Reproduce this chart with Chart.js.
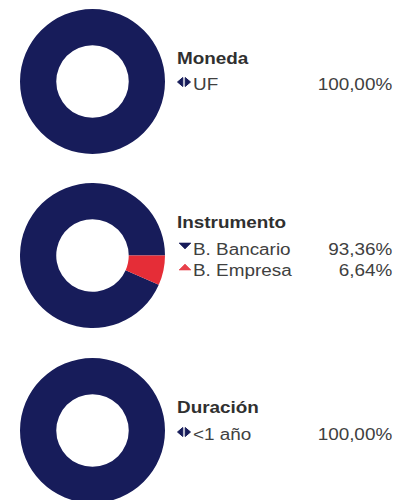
<!DOCTYPE html>
<html>
<head>
<meta charset="utf-8">
<script src="https://cdn.jsdelivr.net/npm/chart.js@4"></script>
<style>
  html, body { margin: 0; padding: 0; background: #fff; }
  body { width: 411px; height: 500px; position: relative; overflow: hidden; font-family: "Liberation Sans", Arial, sans-serif; }
  .pie { position: absolute; left: 20px; width: 145px; height: 145px; }
  .txt { position: absolute; font-size: 16px; line-height: 16px; white-space: nowrap; color: #404040; transform: scaleX(1.18); transform-origin: left center; }
  .txt.title { font-weight: bold; color: #303030; }
  .txt.right { transform-origin: right center; text-align: right; }
  svg.mk { position: absolute; }
</style>
</head>
<body>
<div class="pie" style="top:9px"><canvas id="c1"></canvas></div>
<div class="pie" style="top:183px"><canvas id="c2"></canvas></div>
<div class="pie" style="top:358px"><canvas id="c3"></canvas></div>
<script>
// datos de la cartera
const titles = ['Moneda', 'Instrumento', 'Duración'];

const monedaLabels = ['UF'];
const monedaValues = [100];

const instrumentoLabels = ['B. Bancario', 'B. Empresa'];
const instrumentoValues = [93.36, 6.64];

const duracionLabels = ['<1 año'];
const duracionValues = [100];

const navy = '#171c5a';
const red = '#e52d37';

function donut(id, labels, values, colors, rotation){
    const ctx = document.getElementById(id).getContext('2d');
    return new Chart(ctx, {
        type: 'doughnut',
        data: {
            labels: labels,
            datasets: [{
                data: values,
                backgroundColor: colors,
                borderWidth: 0,
                hoverOffset: 0
            }]
        },
        options: {
            responsive: true,
            maintainAspectRatio: false,
            animation: false,
            cutout: '50%',
            rotation: rotation,
            layout: { padding: 0 },
            plugins: { legend: { display: false }, tooltip: { enabled: false } }
        }
    });
}

donut('c1', monedaLabels, monedaValues, [navy], 0);
donut('c2', instrumentoLabels, instrumentoValues, [navy, red], 113.9);
donut('c3', duracionLabels, duracionValues, [navy], 0);

function fmt(v){
    return v.toFixed(2).replace('.', ',') + '%';
}

function addText(txt, x, baseline, cls, right){
    const d = document.createElement('div');
    d.className = 'txt' + (cls ? ' ' + cls : '') + (right ? ' right' : '');
    d.textContent = txt;
    d.style.top = (baseline - 13.5) + 'px';
    if (right) d.style.right = (411 - x) + 'px';
    else d.style.left = x + 'px';
    document.body.appendChild(d);
}

function addMarker(kind, cx, cy, color){
    const ns = 'http://www.w3.org/2000/svg';
    const s = document.createElementNS(ns, 'svg');
    s.setAttribute('class', 'mk');
    s.setAttribute('width', 14);
    s.setAttribute('height', 10);
    s.style.left = (cx - 7) + 'px';
    s.style.top = (cy - 5) + 'px';
    let pts = [];
    if (kind === 'both') pts = ['0.5,5 5.8,0.5 5.8,9.5', '8.2,0.5 13.5,5 8.2,9.5'];
    if (kind === 'down') pts = ['1,2 13,2 7,8'];
    if (kind === 'up') pts = ['1,8 13,8 7,2'];
    pts.forEach(p => {
        const pg = document.createElementNS(ns, 'polygon');
        pg.setAttribute('points', p);
        pg.setAttribute('fill', color);
        pg.setAttribute('stroke', color);
        pg.setAttribute('stroke-width', kind === 'both' ? 1 : 0.6);
        pg.setAttribute('stroke-linejoin', 'round');
        s.appendChild(pg);
    });
    document.body.appendChild(s);
}

// Moneda
addText(titles[0], 177, 64.5, 'title');
addMarker('both', 184, 82, navy);
addText(monedaLabels[0], 192.5, 90);
addText(fmt(monedaValues[0]), 392.5, 90, '', true);

// Instrumento
addText(titles[1], 177, 228.5, 'title');
addMarker('down', 185, 246, navy);
addText(instrumentoLabels[0], 193, 255);
addText(fmt(instrumentoValues[0]), 392.5, 255, '', true);
addMarker('up', 185, 267, '#e8414b');
addText(instrumentoLabels[1], 193, 276.5);
addText(fmt(instrumentoValues[1]), 392.5, 276.5, '', true);

// Duración
addText(titles[2], 177, 413, 'title');
addMarker('both', 184, 432, navy);
addText(duracionLabels[0], 192.5, 440);
addText(fmt(duracionValues[0]), 392.5, 440, '', true);
</script>
</body>
</html>
